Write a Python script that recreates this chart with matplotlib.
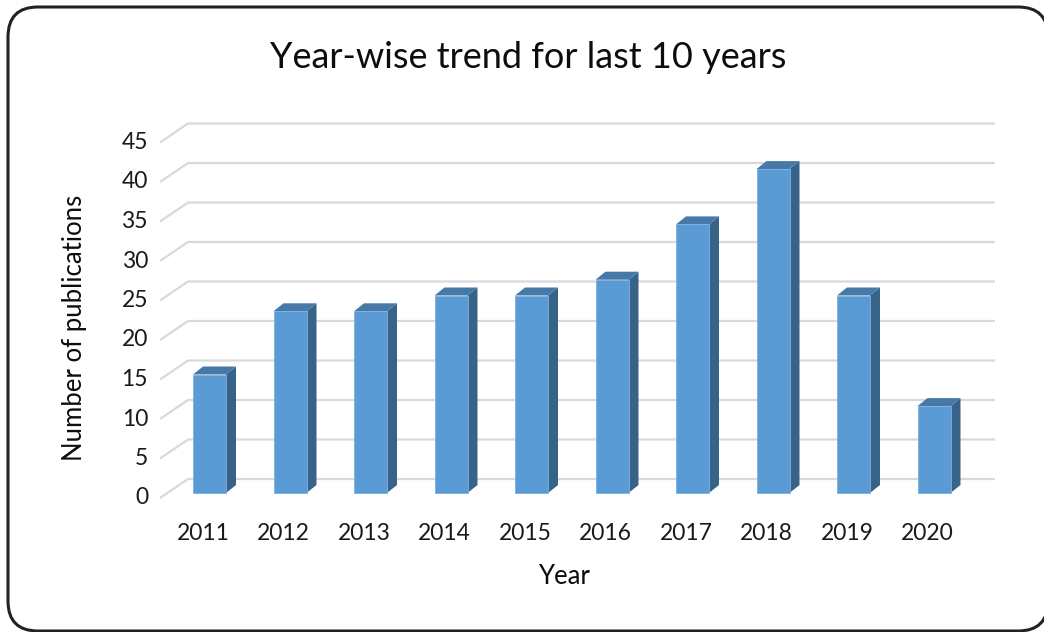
import matplotlib.pyplot as plt
from matplotlib.patches import Polygon, FancyBboxPatch

plt.rcParams['font.family'] = ['Lato', 'DejaVu Sans']

years = ['2011', '2012', '2013', '2014', '2015', '2016', '2017', '2018', '2019', '2020']
counts = [15, 23, 23, 25, 25, 27, 34, 41, 25, 11]
yticks = [0, 5, 10, 15, 20, 25, 30, 35, 40, 45]

W, H = 1044, 632
fig = plt.figure(figsize=(W / 100, H / 100), dpi=100)

# frame with rounded corners (pixel coords)
bg = fig.add_axes([0, 0, 1, 1])
bg.set_xlim(0, W)
bg.set_ylim(H, 0)
bg.axis('off')
bg.add_patch(FancyBboxPatch((8, 7), 1040, 624, boxstyle='round,pad=0,rounding_size=30',
                            fc='white', ec='#222222', lw=2.2, clip_on=False))

# main axes: x in category units, y in value units, pseudo-3d faked by offsets
px_x0, px_dx = 209.5, 80.5
px_y0, px_dy = 493, 7.9
ax = fig.add_axes([0, 0, 1, 1])
ax.patch.set_alpha(0)
ax.set_xlim(-px_x0 / px_dx, (W - px_x0) / px_dx)
ax.set_ylim((px_y0 - H) / px_dy, px_y0 / px_dy)
ax.axis('off')

back_dy = 14 / px_dy
front_dy = -5 / px_dy
wall_left = (188 - px_x0) / px_dx
wall_right = (995 - px_x0) / px_dx
front_left = (160 - px_x0) / px_dx

for v in yticks:
    ax.plot([front_left, wall_left, wall_right], [v + front_dy, v + back_dy, v + back_dy],
            color='#d9d9d9', lw=1.6, solid_capstyle='butt', zorder=1)
    ax.text((148 - px_x0) / px_dx, v + front_dy, str(v), ha='right', va='center',
            fontsize=16.5, color='#1a1a1a')

w = 33 / px_dx
dx = 10 / px_dx
dy = 8 / px_dy
for i, c in enumerate(counts):
    l, r = i - w / 2, i + w / 2
    ax.add_patch(Polygon([(r, 0), (r + dx, dy), (r + dx, c + dy), (r, c)],
                         fc='#386388', ec='none', zorder=2))
    ax.add_patch(Polygon([(l, c), (r, c), (r + dx, c + dy), (l + dx, c + dy)],
                         fc='#4678a8', ec='none', zorder=2))
    ax.add_patch(Polygon([(l, 0), (r, 0), (r, c), (l, c)],
                         fc='#5b9bd5', ec='#7fb0de', lw=0.6, zorder=3))
    ax.text(i - 6.5 / px_dx, (px_y0 - 534) / px_dy, years[i], ha='center', va='center',
            fontsize=16.5, color='#1a1a1a')

fig.text(528 / W, 1 - 57 / H, 'Year-wise trend for last 10 years', ha='center', va='center',
         fontsize=26, color='#0d0d0d')
fig.text(564 / W, 1 - 577 / H, 'Year', ha='center', va='center', fontsize=18.5, color='#0d0d0d')
fig.text(75 / W, 1 - 328 / H, 'Number of publications', ha='center', va='center',
         rotation=90, fontsize=18.5, color='#0d0d0d')

fig.savefig('out.png', dpi=100)
